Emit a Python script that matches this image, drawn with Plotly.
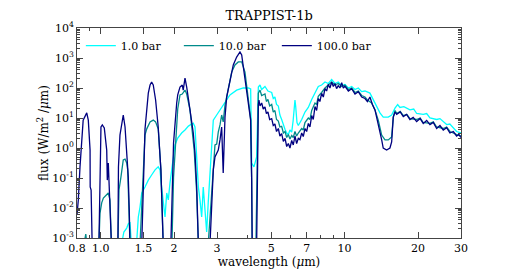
import numpy as np
import plotly.graph_objects as go

# ---------------- data ----------------
# 100.0 bar
wl_100 = [0.80, 0.81, 0.823, 0.836, 0.848, 0.877, 0.89, 0.905, 0.906, 0.914, 0.919, 0.923,
          0.984, 0.994, 1.003, 1.016, 1.035, 1.059, 1.065, 1.075, 1.092, 1.10, 1.107,
          1.177, 1.183, 1.20, 1.219, 1.238, 1.259, 1.271, 1.286, 1.298, 1.31, 1.319,
          1.474, 1.496, 1.52, 1.568, 1.594, 1.618, 1.643, 1.68, 1.722, 1.766, 1.805,
          1.94, 1.96, 1.99, 2.05, 2.07, 2.115, 2.16, 2.18, 2.217, 2.253, 2.29, 2.324, 2.397, 2.436, 2.476, 2.515,
          2.807, 2.852, 2.896, 2.942, 2.99, 3.035, 3.085, 3.134, 3.18, 3.234, 3.286, 3.389, 3.497, 3.61,
          3.725, 3.786, 3.905, 4.03, 4.12, 4.16, 4.18,
          4.36, 4.40, 4.43, 4.457, 4.50, 4.572, 4.64, 4.716, 4.78, 4.85, 4.93, 5.025, 5.10, 5.18, 5.26,
          5.35, 5.43, 5.52, 5.61, 5.70, 5.79, 5.88, 5.97, 6.07, 6.16, 6.26, 6.36, 6.46, 6.56, 6.67,
          6.77, 6.88, 6.99, 7.10, 7.21, 7.33, 7.44, 7.56, 7.68, 7.80, 7.92, 8.05, 8.18, 8.31, 8.44,
          8.57, 8.71, 8.85, 8.99, 9.13, 9.27, 9.42, 9.57, 9.73, 9.88, 10.03, 10.36, 10.69, 11.03,
          11.38, 11.75, 12.12, 12.4, 12.70, 13.0, 13.32, 13.74, 14.19, 14.40, 14.87, 15.34, 15.59,
          15.83, 16.1, 16.35, 16.9, 17.40, 17.95, 18.53, 19.1, 19.74, 20.4, 21.01, 21.7, 22.38, 23.1,
          23.84, 24.6, 25.37, 26.2, 27.03, 27.9, 28.78, 29.4, 30.0]
logf_100 = [-2.23, -1.73, -0.63, 0.27, 0.93, 1.17, 0.93, -0.07, -1.3, -1.4, -2.17, -3.2,
            -3.2, -0.63, 0.70, 0.77, 0.67, -0.07, -1.07, -0.5, -1.73, -2.4, -3.2,
            -3.2, -0.63, 0.43, 0.77, 1.10, 0.70, 0.17, -0.4, -0.97, -2.07, -3.2,
            -3.2, -1.3, 0.63, 1.83, 2.1, 2.2, 2.1, 1.6, 0.7, -0.73, -3.2,
            -3.2, -1.5, 0.17, 1.5, 1.77, 2.03, 2.1, 1.93, 2.33, 2.03, 1.67, 1.27, 0.5, -0.17, -1.3, -3.2,
            -3.2, -1.63, -0.73, -0.3, -0.17, -0.07, 0.27, 0.70, -0.83, 1.03, 1.70, 2.27, 2.77, 3.03,
            3.2, 3.1, 2.27, 1.37, 0.93, -1.07, -3.2,
            -3.2, 1.17, 1.45, 1.6, 1.4, 1.5, 1.3, 1.37, 1.15, 1.2, 0.95, 0.98, 0.75, 0.8, 0.55,
            0.65, 0.4, 0.48, 0.22, 0.32, 0.05, 0.15, 0.0, 0.25, 0.1, 0.4, 0.15, 0.32, 0.28, 0.5,
            0.38, 0.65, 0.55, 0.82, 0.7, 1.08, 0.95, 1.38, 1.25, 1.65, 1.55, 1.82, 1.7, 1.98, 1.9,
            2.12, 2.0, 2.2, 2.05, 2.15, 1.98, 2.08, 2.0, 2.18, 2.0, 2.06, 1.9, 1.98, 1.8,
            1.88, 1.7, 1.65, 1.55, 1.7, 1.45, 1.27, 0.83, 0.27, 0.0, -0.07, 0.0, 0.2,
            1.03, 1.2, 1.12, 1.2, 1.05, 1.12, 0.95, 1.02, 0.88, 0.98, 0.82, 0.92, 0.78, 0.85,
            0.65, 0.75, 0.6, 0.68, 0.5, 0.55, 0.4, 0.45, 0.35]

# 10.0 bar
wl_10 = [0.855, 0.869, 0.878,
         0.984, 0.994, 1.010, 1.026, 1.05, 1.075, 1.092, 1.10, 1.107,
         1.177, 1.189, 1.211, 1.238, 1.259, 1.279, 1.291, 1.31, 1.319,
         1.45, 1.474, 1.496, 1.52, 1.544, 1.594, 1.643, 1.68, 1.722, 1.766, 1.805,
         1.96, 1.99, 2.03, 2.05, 2.07, 2.115, 2.16, 2.217, 2.253, 2.324, 2.375, 2.418, 2.476, 2.515,
         2.76, 2.852, 2.896, 2.942, 2.99, 3.035, 3.085, 3.134, 3.18, 3.234, 3.336, 3.445, 3.553, 3.666,
         3.786, 3.905, 4.03, 4.12, 4.16, 4.18,
         4.33, 4.40, 4.43, 4.50, 4.57, 4.716, 4.78, 4.85, 4.93, 5.025, 5.10, 5.18, 5.26, 5.35, 5.43,
         5.52, 5.61, 5.70, 5.79, 5.88, 5.97, 6.07, 6.16, 6.26, 6.36, 6.46, 6.67, 6.77, 6.88, 7.10,
         7.21, 7.33, 7.56, 7.68, 7.80, 8.05, 8.31, 8.57, 8.85, 9.13, 9.42, 9.73, 10.03, 10.36, 10.69,
         11.03, 11.38, 11.75, 12.12, 12.4, 12.91, 13.32, 13.74, 14.19, 14.64, 15.1, 15.59, 15.83,
         16.1, 16.35, 16.9, 17.40, 18.0, 18.53, 19.74, 20.4, 21.01, 22.38, 23.1, 23.84, 25.37, 26.2,
         27.03, 28.78, 30.0]
logf_10 = [-3.2, -2.87, -3.2,
           -3.2, -2.17, -1.83, -1.67, -1.57, -1.5, -1.73, -2.4, -3.2,
           -3.2, -1.4, -0.97, -0.4, -0.37, -0.5, -0.73, -2.07, -3.2,
           -3.2, -1.97, -0.4, 0.43, 0.63, 0.87, 0.93, 0.87, 0.63, -0.73, -3.2,
           -3.2, -0.97, 0.17, 0.63, 1.3, 1.77, 1.8, 1.93, 1.8, 1.27, 0.63, -0.07, -1.5, -3.2,
           -3.2, -1.4, -0.57, 0.1, 0.13, 0.53, 0.77, 1.1, 0.87, 1.43, 1.97, 2.53, 2.77, 2.87,
           2.87, 2.53, 1.63, 0.97, -1.07, -3.2,
           -3.2, 0.6, 1.83, 1.93, 1.75, 1.8, 1.55, 1.62, 1.4, 1.45, 1.2, 1.25, 0.95, 0.9, 0.7,
           0.72, 0.5, 0.55, 0.35, 0.45, 0.3, 0.42, 0.35, 0.55, 0.4, 0.5, 0.65, 0.6, 0.85, 1.0,
           0.95, 1.25, 1.5, 1.45, 1.72, 1.85, 2.0, 2.1, 2.2, 2.1, 2.15, 2.05, 2.1, 1.95, 2.0,
           1.85, 1.9, 1.75, 1.7, 1.6, 1.5, 1.27, 0.93, 0.43, 0.27, 0.27, 0.37, 1.03,
           1.25, 1.15, 1.22, 1.08, 1.12, 0.98, 0.95, 1.0, 0.85, 0.82, 0.87, 0.7, 0.65, 0.7,
           0.55, 0.45, 0.4]

# 1.0 bar
wl_1 = [1.219, 1.245, 1.279, 1.298, 1.319, 1.336,
        1.403, 1.427, 1.45, 1.474, 1.52, 1.568, 1.618, 1.671, 1.722, 1.751, 1.778, 1.805, 1.836,
        1.866, 1.894, 1.924, 1.955, 1.984, 2.017, 2.07, 2.148, 2.217, 2.29, 2.36, 2.397, 2.436,
        2.476, 2.515, 2.554, 2.595, 2.634, 2.677, 2.72, 2.76, 2.807, 2.852, 2.896, 2.99, 3.085,
        3.18, 3.286, 3.389, 3.61, 3.843, 4.03, 4.12, 4.16, 4.25, 4.36,
        4.40, 4.43, 4.50, 4.57, 4.716, 4.85, 5.025, 5.10, 5.18, 5.26, 5.35, 5.43, 5.52, 5.61, 5.70,
        5.79, 5.88, 5.97, 6.07, 6.15, 6.22, 6.26, 6.30, 6.38, 6.46, 6.67, 6.88, 7.10, 7.33, 7.56,
        7.80, 8.05, 8.31, 8.57, 8.85, 9.13, 9.42, 9.73, 10.03, 10.36, 10.69, 11.03, 11.38, 11.75,
        12.12, 12.70, 13.32, 13.96, 14.40, 15.1, 15.59, 16.09, 16.5, 16.86, 17.5, 18.53, 19.2,
        19.74, 21.01, 21.7, 22.38, 23.84, 24.6, 26.2, 27.0, 28.78, 30.0]
logf_1 = [-3.2, -2.8, -2.67, -2.53, -2.47, -3.2,
          -3.2, -2.3, -1.97, -1.5, -1.3, -1.07, -0.9, -0.73, -0.63, -0.73, -1.3, -1.73, -2.3,
          -1.5, -1.73, -1.17, -0.73, -0.4, 0.1, 0.33, 0.5, 0.6, 0.73, 0.8, 0.83, 0.7,
          -0.23, -1.3, -1.73, -2.3, -1.3, -2.07, -2.8, -1.83, -0.9, 0.27, 0.93, 1.1, 1.27,
          1.4, 1.6, 1.77, 1.93, 2.0, 2.0, 1.97, -0.5, -0.63, -0.3,
          1.6, 2.03, 2.1, 1.95, 2.05, 1.9, 1.85, 1.65, 1.7, 1.45, 1.4, 1.1, 0.95, 0.75, 0.62,
          0.5, 0.45, 0.6, 0.53, 0.9, 1.3, 1.6, 1.4, 0.85, 0.75, 0.95, 1.2, 1.35, 1.62, 1.85,
          2.05, 2.1, 2.2, 2.15, 2.28, 2.15, 2.2, 2.08, 2.12, 2.0, 2.05, 1.95, 2.0, 1.88,
          1.9, 1.83, 1.5, 1.17, 1.03, 1.03, 1.1, 1.33, 1.45, 1.35, 1.38, 1.27, 1.3,
          1.15, 1.12, 1.15, 1.0, 0.95, 0.98, 0.78, 0.8, 0.55, 0.5]

series_names = ["1.0 bar", "10.0 bar", "100.0 bar"]
series_colors = ["#00FFFF", "#008B8B", "#000080"]

x_tick_vals = [0.8, 1.0, 1.5, 2, 3, 5, 7, 10, 20, 30]
x_tick_text = ["0.8", "1.0", "1.5", "2", "3", "5", "7", "10", "20", "30"]
x_minor_vals = [0.9, 4, 6, 8, 9]
y_tick_vals = [1e-3, 1e-2, 1e-1, 1e0, 1e1, 1e2, 1e3, 1e4]
y_tick_text = ["10<sup>-3</sup>", "10<sup>-2</sup>", "10<sup>-1</sup>", "10<sup>0</sup>",
               "10<sup>1</sup>", "10<sup>2</sup>", "10<sup>3</sup>", "10<sup>4</sup>"]
y_minor_vals = [k * 10.0 ** n for n in range(-3, 4) for k in range(2, 10)]

# ---------------- figure ----------------
FONT = "DejaVu Serif"
fig = go.Figure()
for name, col, wl, lf in zip(series_names, series_colors,
                             [wl_1, wl_10, wl_100], [logf_1, logf_10, logf_100]):
    fig.add_trace(go.Scatter(x=wl, y=10 ** np.array(lf), mode="lines", name=name,
                             line=dict(color=col, width=1.3)))

axis_common = dict(showgrid=False, zeroline=False, showline=True, linecolor="#444",
                   linewidth=1, mirror="allticks", ticks="inside", ticklen=6,
                   tickcolor="#444", automargin=False,
                   tickfont=dict(family=FONT, size=11, color="black"))
fig.update_xaxes(type="log", range=[np.log10(0.8), np.log10(30)],
                 tickvals=x_tick_vals, ticktext=x_tick_text,
                 minor=dict(tickvals=x_minor_vals, ticklen=3, ticks="inside", tickcolor="#444"),
                 title=dict(text="wavelength (<i>μ</i>m)", font=dict(family=FONT, size=12, color="black"),
                            standoff=3),
                 **axis_common)
fig.update_yaxes(type="log", range=[-3, 4],
                 tickvals=y_tick_vals, ticktext=y_tick_text,
                 minor=dict(tickvals=y_minor_vals, ticklen=3, ticks="inside", tickcolor="#444"),
                 title=dict(text="flux (W/m<sup>2</sup> /<i>μ</i>m)",
                            font=dict(family=FONT, size=12, color="black"), standoff=1),
                 **axis_common)

# the page body adds an 8 px offset, so the figure is 8 px smaller on each axis
fig.update_layout(
    width=504, height=272,
    margin=dict(l=69, r=51, t=20, b=42, autoexpand=False),
    paper_bgcolor="white", plot_bgcolor="white",
    title=dict(text="TRAPPIST-1b", x=0.518, xanchor="center", y=0.974, yanchor="middle",
               font=dict(family=FONT, size=13, color="black")),
    legend=dict(orientation="h", x=0.01, y=0.985, xanchor="left", yanchor="top",
                bgcolor="rgba(0,0,0,0)", font=dict(family=FONT, size=11, color="black"),
                itemwidth=30, tracegroupgap=0, entrywidth=53, entrywidthmode="pixels"),
    showlegend=True,
)

fig.write_html("out.html")
